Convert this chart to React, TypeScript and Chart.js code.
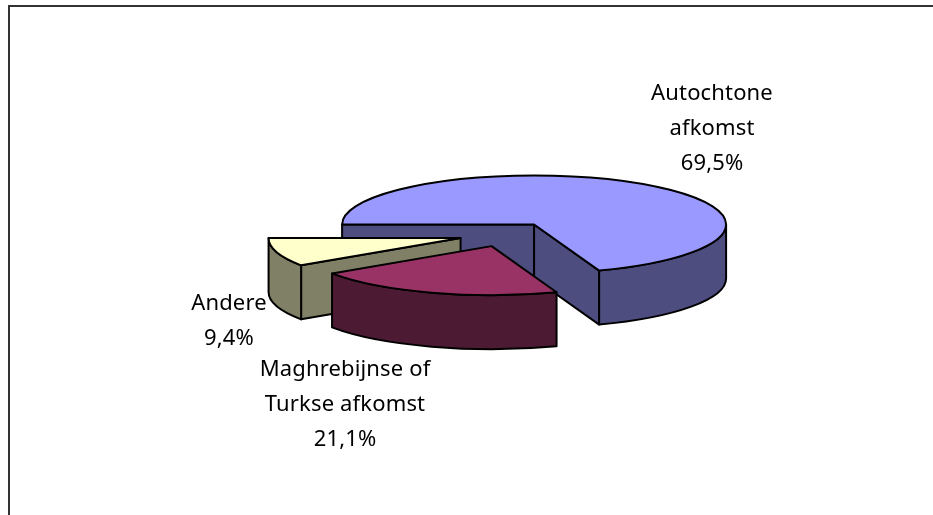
import React, { useEffect, useRef } from "react";
import { Chart, registerables } from "chart.js";

Chart.register(...registerables);

const categories = ["Autochtone afkomst", "Maghrebijnse of Turkse afkomst", "Andere"];
const labelLines = [["Autochtone", "afkomst"], ["Maghrebijnse of", "Turkse afkomst"], ["Andere"]];
const shares = [69.5, 21.1, 9.4];
const topColors = ["#9999FF", "#993366", "#FFFFCC"];
const sideColors = ["#4D4D80", "#4D1A33", "#808066"];
const labelCentersX = [712, 345, 229];
const labelTopLineY = [93.5, 369.5, 303.5];
const drawOrder = [0, 2, 1];

const SQUASH = 49 / 192;
const DEPTH = 54;
const LINE_H = 35;
const FONT = '22px "Noto Sans"';

const pie3d = {
  id: "pie3d",
  beforeDatasetsDraw(chart: any) {
    const ctx: CanvasRenderingContext2D = chart.ctx;
    const arcs = chart.getDatasetMeta(0).data;
    ctx.save();
    ctx.lineWidth = 2;
    ctx.strokeStyle = "#000";
    ctx.lineJoin = "round";
    for (const i of drawOrder) {
      const arc = arcs[i];
      const { x, y, startAngle: a0, endAngle: a1, outerRadius: r } = arc.getProps(
        ["x", "y", "startAngle", "endAngle", "outerRadius"],
        true
      );
      const mid = (a0 + a1) / 2;
      const off = (arc.options.offset || 0) / 4;
      const tx = x + Math.cos(mid) * off;
      const ty = y + Math.sin(mid) * off * SQUASH;
      const ry = r * SQUASH;
      const px = (a: number) => tx + Math.cos(a) * r;
      const py = (a: number) => ty + Math.sin(a) * ry;

      const wall = (a: number) => {
        ctx.beginPath();
        ctx.moveTo(tx, ty);
        ctx.lineTo(px(a), py(a));
        ctx.lineTo(px(a), py(a) + DEPTH);
        ctx.lineTo(tx, ty + DEPTH);
        ctx.closePath();
        ctx.fillStyle = sideColors[i];
        ctx.fill();
        ctx.stroke();
      };
      if (Math.cos(a0) < 0) wall(a0);
      if (Math.cos(a1) > 0) wall(a1);

      for (let k = 0; k < 3; k++) {
        const lo = Math.max(a0, k * 2 * Math.PI);
        const hi = Math.min(a1, k * 2 * Math.PI + Math.PI);
        if (hi <= lo) continue;
        ctx.beginPath();
        ctx.ellipse(tx, ty, r, ry, 0, lo, hi);
        ctx.lineTo(px(hi), py(hi) + DEPTH);
        ctx.ellipse(tx, ty + DEPTH, r, ry, 0, hi, lo, true);
        ctx.closePath();
        ctx.fillStyle = sideColors[i];
        ctx.fill();
        ctx.stroke();
      }

      ctx.beginPath();
      ctx.moveTo(tx, ty);
      ctx.ellipse(tx, ty, r, ry, 0, a0, a1);
      ctx.closePath();
      ctx.fillStyle = topColors[i];
      ctx.fill();
      ctx.stroke();
    }
    ctx.restore();
    return false;
  },
  afterDraw(chart: any) {
    const ctx: CanvasRenderingContext2D = chart.ctx;
    ctx.save();
    ctx.strokeStyle = "#333";
    ctx.lineWidth = 2;
    ctx.beginPath();
    ctx.moveTo(9, 515);
    ctx.lineTo(9, 6);
    ctx.lineTo(933, 6);
    ctx.stroke();

    ctx.fillStyle = "#000";
    ctx.font = FONT;
    ctx.textAlign = "center";
    ctx.textBaseline = "middle";
    (ctx as any).letterSpacing = "0.15px";
    shares.forEach((v, i) => {
      const lines = [...labelLines[i], v.toFixed(1).replace(".", ",") + "%"];
      lines.forEach((t, j) => ctx.fillText(t, labelCentersX[i], labelTopLineY[i] + j * LINE_H));
    });
    ctx.restore();
  },
};

export default function App() {
  const ref = useRef<HTMLCanvasElement>(null);
  useEffect(() => {
    document.body.style.margin = "0";
    document.body.style.background = "#fff";
    const chart = new Chart(ref.current!, {
      type: "pie",
      data: {
        labels: categories,
        datasets: [{ data: shares, backgroundColor: topColors, offset: 192, radius: 192, borderWidth: 0 }],
      },
      options: {
        responsive: false,
        animation: false,
        rotation: 270,
        layout: { padding: { left: 80, right: 0, top: 0, bottom: 46 } },
        plugins: { legend: { display: false }, tooltip: { enabled: false }, title: { display: false } },
      },
      plugins: [pie3d],
    } as any);
    return () => chart.destroy();
  }, []);
  return <canvas ref={ref} width={933} height={515} style={{ display: "block" }} />;
}
